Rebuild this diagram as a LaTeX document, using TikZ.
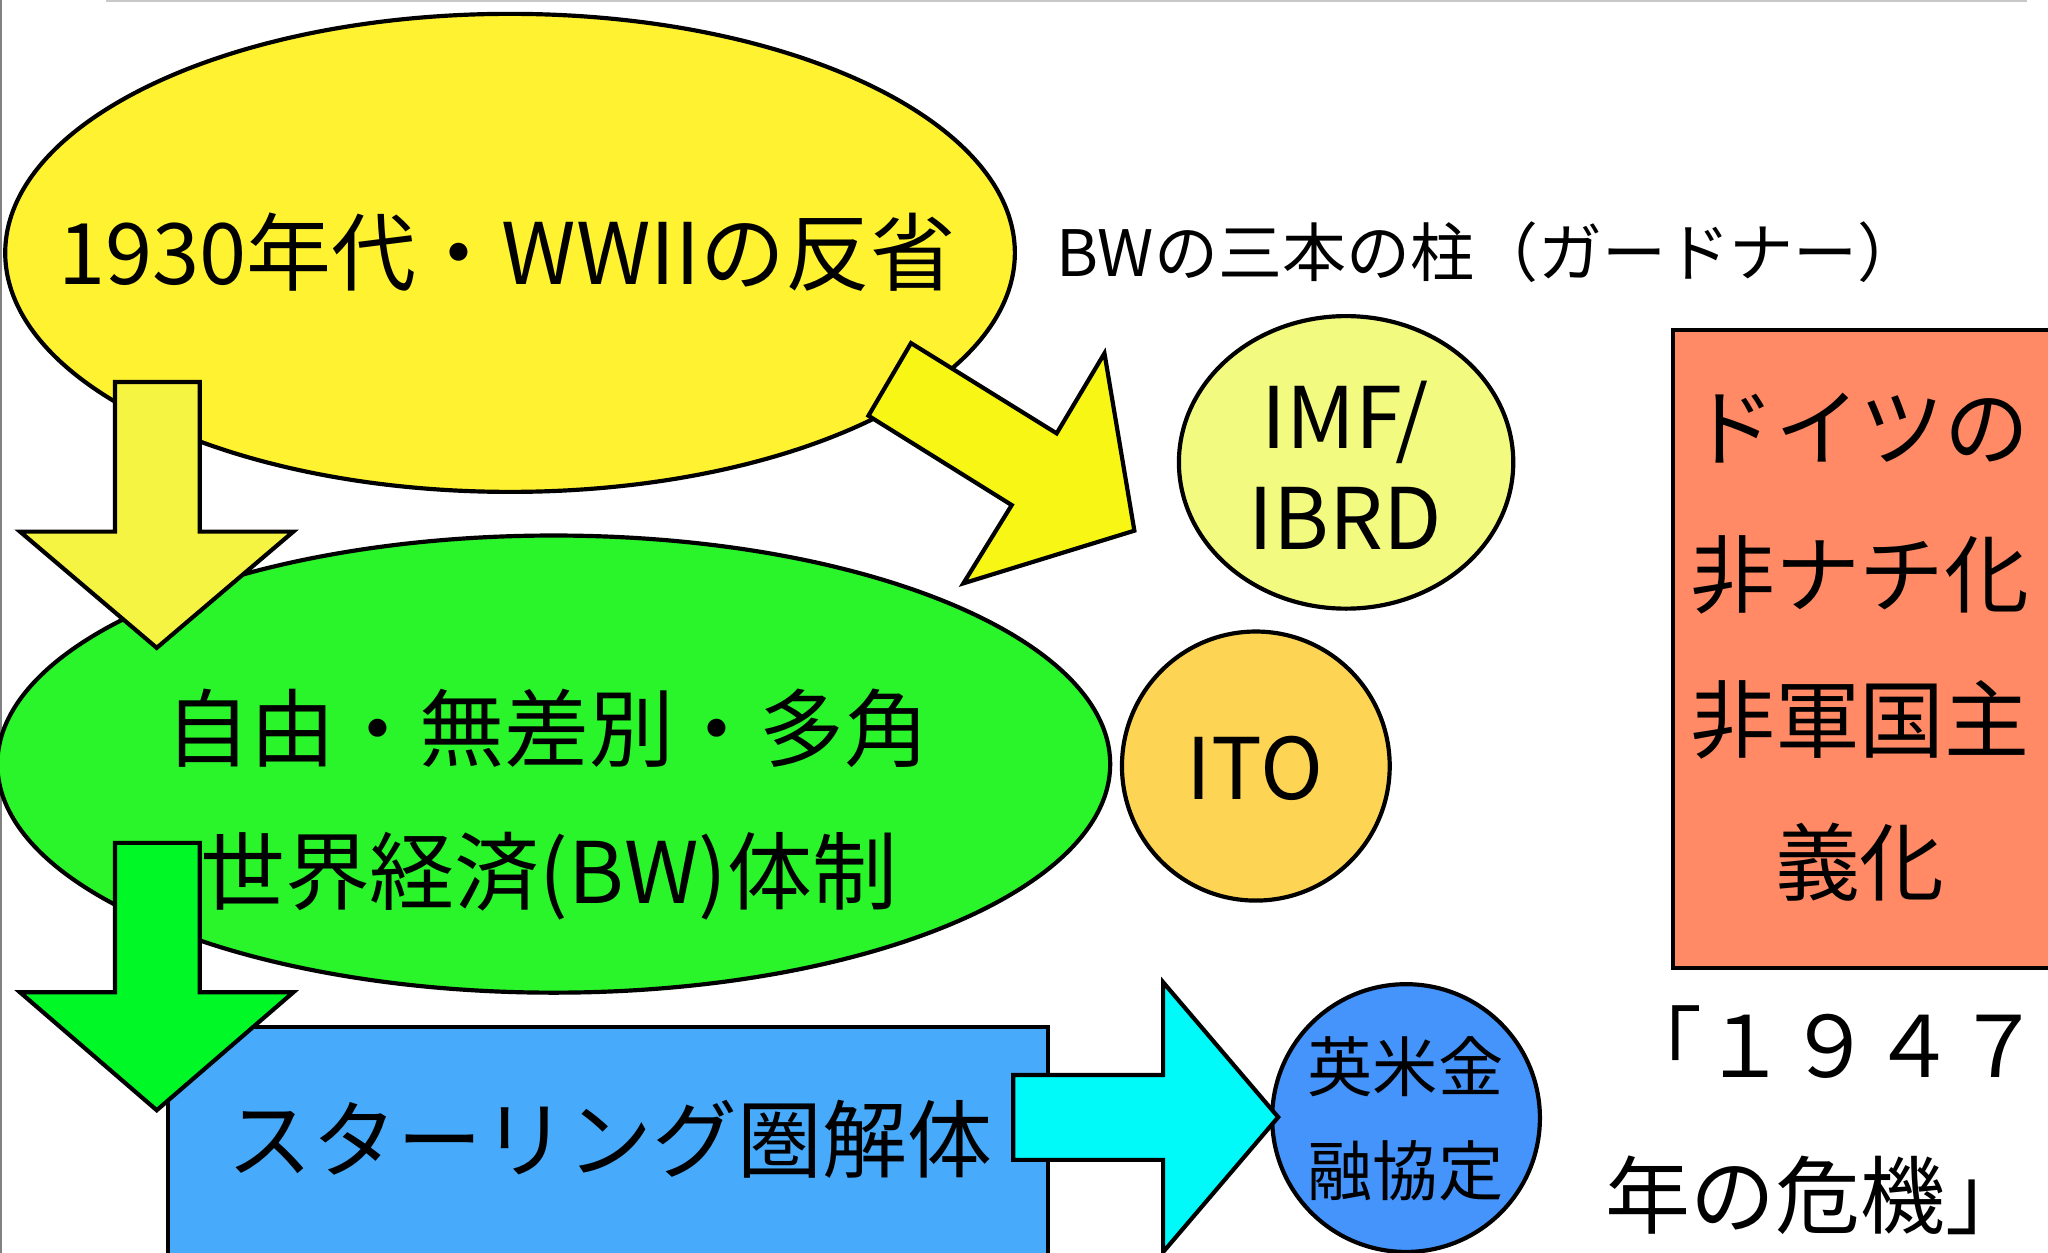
\documentclass[tikz,border=0pt]{standalone}
\usepackage{fontspec}
\setmainfont{Noto Sans CJK JP}
\usetikzlibrary{shapes.geometric}
\definecolor{cYel}{RGB}{255,242,48}
\definecolor{cYelArr}{RGB}{246,244,66}
\definecolor{cYelDiag}{RGB}{247,246,20}
\definecolor{cGreen}{RGB}{42,245,42}
\definecolor{cGreenArr}{RGB}{0,248,38}
\definecolor{cBlueRect}{RGB}{72,170,250}
\definecolor{cCyan}{RGB}{0,250,250}
\definecolor{cImf}{RGB}{242,250,128}
\definecolor{cIto}{RGB}{254,212,84}
\definecolor{cBlueCirc}{RGB}{68,148,252}
\definecolor{cSalmon}{RGB}{255,138,101}
\tikzset{
  shp/.style={draw=black, line width=3.2pt, line join=miter},
  ell/.style={shp, ellipse, inner sep=0pt, outer sep=0pt},
  box/.style={shp, rectangle, inner sep=0pt, outer sep=0pt, anchor=north west},
  big/.style={font=\fontsize{65}{70}\selectfont, inner sep=0pt, anchor=base},
  mid/.style={font=\fontsize{49}{54}\selectfont, inner sep=0pt, anchor=base},
  sml/.style={font=\fontsize{50}{56}\selectfont, inner sep=0pt, anchor=base},
}
\begin{document}
\begin{tikzpicture}[x=1pt,y=-1pt]
\useasboundingbox (0,0) rectangle (1568,959);
\clip (0,0) rectangle (1568,959);
\fill[white] (0,0) rectangle (1568,959);
% frame lines of the slide
\coordinate (tl) at (81,0.6);
\coordinate (tr) at (1552,0.6);
\draw[color={rgb,255:red,200;green,200;blue,200}, line width=1.2pt] (tl) -- (tr);
\coordinate (lt) at (0.6,0);
\coordinate (lb) at (0.6,959);
\draw[color={rgb,255:red,130;green,130;blue,130}, line width=1.2pt] (lt) -- (lb);

% main shapes
\node[ell, fill=cYel, minimum width=773, minimum height=366] (refl) at (390.5,193.6) {};
\node[ell, fill=cGreen, minimum width=852, minimum height=350] (bw) at (424,585) {};
\path[shp, fill=cYelArr] (88,292.5) -- (153,292.5) -- (153,407) -- (224.6,407) -- (120,496) -- (15.3,407) -- (88,407) -- cycle;
\path[shp, fill=cYelDiag] (697.5,262.7) -- (809,331.8) -- (845.6,270.5) -- (868.5,406.3) -- (737.6,446.6) -- (774.6,386.7) -- (664.9,318.3) -- cycle;
\node[ell, fill=cImf, minimum width=256, minimum height=224] (imf) at (1030.6,354) {};
\node[ell, fill=cIto, minimum width=205, minimum height=206] (ito) at (961.5,586.5) {};
\node[box, fill=cBlueRect, minimum width=673.7, minimum height=240] (ster) at (128.9,786.5) {};
\path[shp, fill=cGreenArr] (88,645.3) -- (153,645.3) -- (153,759.7) -- (224.6,759.7) -- (120,850) -- (15.3,759.7) -- (88,759.7) -- cycle;
\node[ell, fill=cBlueCirc, minimum width=205, minimum height=205] (angl) at (1076.5,856) {};
\path[shp, fill=cCyan] (775.8,823) -- (890.5,823) -- (890.5,752) -- (978.6,855.3) -- (890.5,958.6) -- (890.5,888) -- (775.8,888) -- cycle;
\node[box, fill=cSalmon, minimum width=400, minimum height=488.3] (ger) at (1281,252.7) {};

% texts
\node[big] (t1) at (388,218) {1930年代・WWIIの反省};
\node[mid] (t2) at (1140,212) {BWの三本の柱（ガードナー）};
\node[big] (t3) at (419,582) {自由・無差別・多角};
\node[big] (t4) at (420,692) {世界経済(BW)体制};
\node[big] (t5) at (467,897) {スターリング圏解体};
\node[big] (t6) at (1030,343) {IMF/};
\node[big] (t7) at (1030,421) {IBRD};
\node[big] (t8) at (961,612) {ITO};
\node[sml] (t9) at (1076,836) {英米金};
\node[sml] (t10) at (1076,915) {融協定};
\node[big] (t11) at (1424,352) {ドイツの};
\node[big] (t12) at (1424,464) {非ナチ化};
\node[big] (t13) at (1424,575) {非軍国主};
\node[big] (t14) at (1424,685) {義化};
\node[big, anchor=base west] (t15) at (1238,825) {「１９４７};
\node[big, anchor=base west] (t16) at (1229,940) {年の危機」};
\end{tikzpicture}
\end{document}
